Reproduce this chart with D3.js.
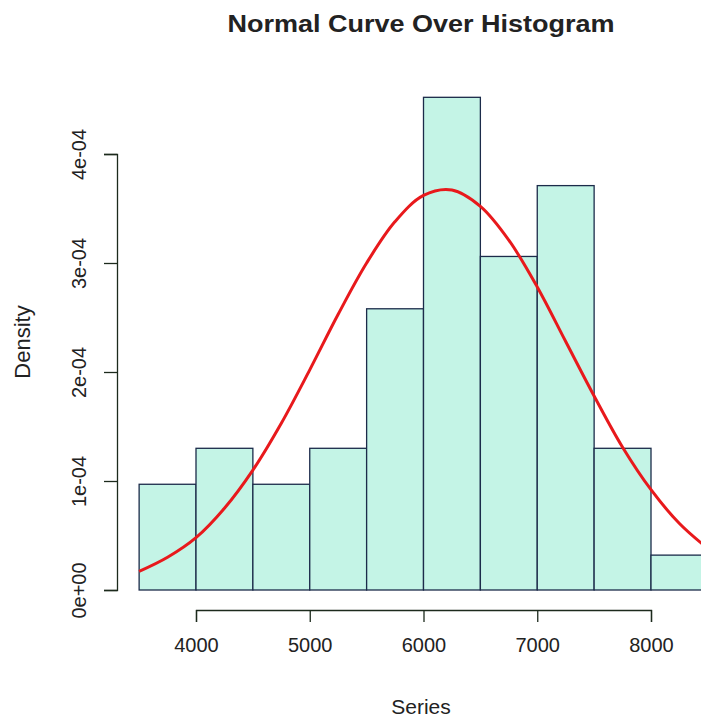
<!DOCTYPE html>
<html>
<head>
<meta charset="utf-8">
<script src="https://cdn.jsdelivr.net/npm/d3@7"></script>
<style>
  body { margin: 0; background: #fff; }
  text { font-family: "Liberation Sans", Arial, sans-serif; fill: #222; }
</style>
</head>
<body>
<div id="chart"></div>
<script>
// chart size
const width = 701;
const height = 720;

// histogram bins (Series) and their densities
const binStarts = [3500, 4000, 4500, 5000, 5500, 6000, 6500, 7000, 7500, 8000];
const binWidth = 500;
const densities = [0.97e-4, 1.30e-4, 0.97e-4, 1.30e-4, 2.58e-4, 4.52e-4, 3.06e-4, 3.71e-4, 1.30e-4, 0.32e-4];

// normal curve
const curveX = [3500, 3750, 4000, 4250, 4500, 4750, 5000, 5250, 5500, 5750, 6000, 6250,
                6500, 6750, 7000, 7250, 7500, 7750, 8000, 8250, 8500];
const curveY = [0.17e-4, 0.30e-4, 0.48e-4, 0.75e-4, 1.10e-4, 1.53e-4, 2.02e-4, 2.53e-4, 3.00e-4,
                3.38e-4, 3.62e-4, 3.67e-4, 3.52e-4, 3.21e-4, 2.78e-4, 2.28e-4, 1.78e-4, 1.31e-4,
                0.92e-4, 0.61e-4, 0.38e-4];

// tick labels
const xTicks = [4000, 5000, 6000, 7000, 8000];
const yTicks = [0, 1e-4, 2e-4, 3e-4, 4e-4];
const yTickLabels = ["0e+00", "1e-04", "2e-04", "3e-04", "4e-04"];

const svg = d3.select("#chart")
  .append("svg")
  .attr("width", width)
  .attr("height", height);

// scales, ranges span only the tick range like R's axes
let xScale = d3.scaleLinear()
  .domain([4000, 8000])
  .range([196, 651]);

let yScale = d3.scaleLinear()
  .domain([0, 4e-4])
  .range([590, 154]);

// bars
svg.selectAll(".bar")
  .data(binStarts)
  .enter()
  .append("rect")
    .attr("class", "bar")
    .attr("x", d => xScale(d))
    .attr("y", (d, i) => yScale(densities[i]))
    .attr("width", d => xScale(d + binWidth) - xScale(d))
    .attr("height", (d, i) => yScale(0) - yScale(densities[i]))
    .attr("fill", "#c4f4e6")
    .attr("stroke", "#1c2b4a")
    .attr("stroke-width", 1.3);

// normal curve
const line = d3.line()
  .x((d, i) => xScale(curveX[i]))
  .y(d => yScale(d))
  .curve(d3.curveCatmullRom);

svg.append("path")
  .datum(curveY)
  .attr("d", line)
  .attr("fill", "none")
  .attr("stroke", "#e8191c")
  .attr("stroke-width", 3);

// x axis
const xAxis = svg.append("g")
  .attr("transform", "translate(0,610)")
  .call(d3.axisBottom(xScale)
    .tickValues(xTicks)
    .tickFormat(d3.format("d"))
    .tickSize(12)
    .tickSizeOuter(12)
    .tickPadding(16));
xAxis.selectAll("path, line").attr("stroke", "#1c2a1c").attr("stroke-width", 1.3);
xAxis.selectAll("text").attr("font-size", "20px").attr("fill", "#222")
  .attr("font-family", "Liberation Sans, Arial, sans-serif");

// y axis
const yAxis = svg.append("g")
  .attr("transform", "translate(117,0)")
  .call(d3.axisLeft(yScale)
    .tickValues(yTicks)
    .tickFormat((d, i) => yTickLabels[i])
    .tickSize(13)
    .tickSizeOuter(13));
yAxis.selectAll("path, line").attr("stroke", "#1c2a1c").attr("stroke-width", 1.3);
yAxis.selectAll("text")
  .attr("font-size", "20px")
  .attr("fill", "#222")
  .attr("font-family", "Liberation Sans, Arial, sans-serif")
  .attr("x", null)
  .attr("dy", null)
  .attr("text-anchor", "middle")
  .attr("transform", "translate(-31,0) rotate(-90)");

// labels
svg.append("text")
  .attr("x", 421)
  .attr("y", 32)
  .attr("text-anchor", "middle")
  .attr("font-size", "23px")
  .attr("font-weight", "bold")
  .attr("fill", "#000")
  .attr("textLength", 387)
  .attr("lengthAdjust", "spacingAndGlyphs")
  .text("Normal Curve Over Histogram");

svg.append("text")
  .attr("x", 421)
  .attr("y", 714)
  .attr("text-anchor", "middle")
  .attr("font-size", "21px")
  .text("Series");

svg.append("text")
  .attr("transform", "translate(30,342) rotate(-90)")
  .attr("text-anchor", "middle")
  .attr("font-size", "22px")
  .text("Density");
</script>
</body>
</html>
